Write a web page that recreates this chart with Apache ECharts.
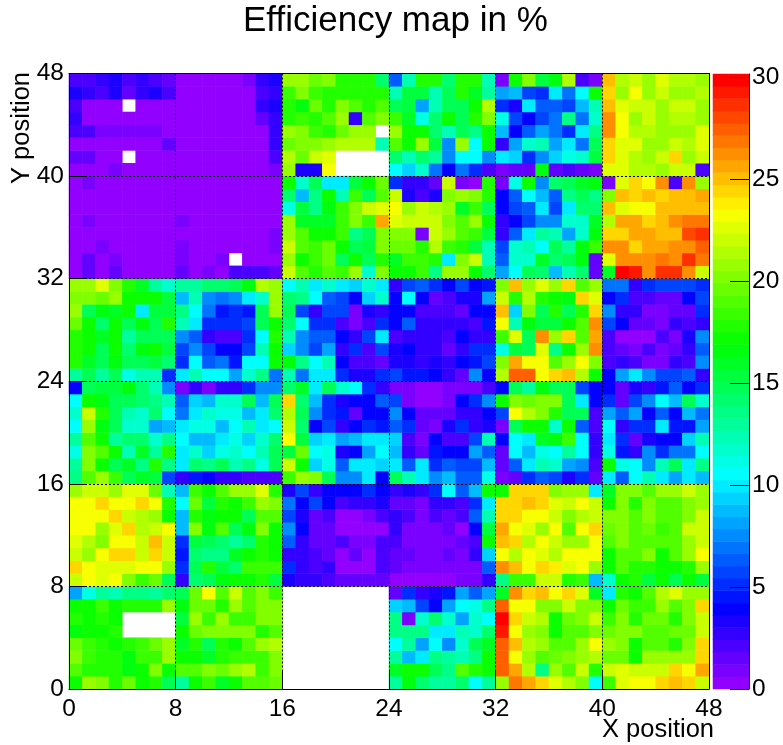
<!DOCTYPE html>
<html><head><meta charset="utf-8">
<style>html,body{margin:0;padding:0;background:#fff}#c{width:783px;height:745px}</style>
<script src="https://cdn.jsdelivr.net/npm/echarts@6/dist/echarts.min.js"></script>
</head><body><div id="c"></div>
<script>
const n = null;
const row47=[2,2,3,3.6,2,3,2,1.5,.4,.4,.4,.4,.4,1.2,3,3.2,21,21,19.5,20,18,18,17.5,14,6.5,12.3,17.5,17.5,14,18,17.5,12.5,.9,17,20,15.5,16.5,21.5,2,1,25,21.5,22.3,21,22.5,21.7,21.7,21];
const row46=[3.6,3,2.3,3.2,1.3,2.5,3.2,2.3,.4,.4,.4,.4,.4,.4,2,3,18.5,20.5,18.5,17.5,17.5,17.5,18,18,12.5,15.5,15.5,12.5,14.5,17.5,16,13,8.3,8.7,6,5,9.8,6.7,10.7,17,24.7,20.7,23,20.7,22,21,21,21.5];
const row45=[2.3,.4,.4,.4,n,.4,.4,.4,.4,.4,.4,.4,.4,.4,3,3.6,18,16.5,19.5,18,20,19,17.5,19,15,15.5,8.3,12.5,14.5,14.5,17,21.5,5,3.5,10,6.5,6.5,6,8.7,12.3,25,22.8,22,22,21,22,22,21];
const row44=[3,.4,.4,.4,.4,.4,.4,.4,.4,.4,.4,.4,.4,.4,1.5,3,18,18.5,18,19,20.7,2.7,19,20,18.5,16,11.3,14,17,15,18,20,11,6,4.2,5.5,7,13.3,7,11.8,26,23.5,21,22,21,21.5,21.5,21];
const row43=[2,2,1.2,1.2,1.2,1.2,1.2,.5,.4,.4,.4,.4,.4,.4,.4,3,21,20,18.5,18,19.5,21,21,n,21,17,17,14,12.5,15,13.5,17,9,4.2,6.5,8.3,7,5,10,13.3,26.5,23.5,21.5,21.5,20.7,20.7,21,22.8];
const row42=[.4,.4,.4,.4,.4,.4,.4,1.5,.4,.4,.4,.4,.4,.4,.4,3,19.5,20,20,21,21.7,21.7,21.7,12.5,19,17,21,15.5,7.5,21,10.7,17,3,8.3,11.5,12.3,8.3,10,7,15,24.2,22.8,22.8,20.7,20.7,22.3,21.5,22.8];
const row41=[1.5,1.5,.4,.4,n,.4,.4,.4,.4,.4,.4,.4,.4,.4,.4,2,21.5,19.5,22,22.8,n,n,n,n,14,12.5,14,12.8,7.5,10.8,10.7,7.8,10.2,9.2,5.2,7.7,9.2,11.3,11.8,15.5,24.7,22.8,21.5,20.7,22,24.2,20.7,22.3];
const row40=[.4,.4,.4,1.2,.4,.4,.4,.4,.4,.4,.4,.4,.4,.4,.4,1.2,21,3.5,3.1,23.5,n,n,n,n,10.7,9.1,11.5,6.7,4.2,7,5.2,2.3,.7,1.5,1.5,16.5,1.5,2.3,1.5,1,22.8,22.8,21.5,21.5,20.7,22,22,2];
const row39=[.4,1.2,.4,.4,.4,.4,.4,.4,.4,.4,.4,.4,.4,.4,.4,.4,17,12,14.5,10,10,15.5,17,19.5,5,2.7,2.7,1.5,22,1,.6,18,1,11.3,17,7.5,14,15,16,16.5,1,22.8,24.2,23.5,26.3,2,26.3,20.7];
const row38=[.4,.4,.4,.4,.4,.4,.4,.4,.4,.4,.4,.4,.4,.4,.4,.4,14,8.7,13.5,17,12.5,18.5,15,19,22.3,3.2,2,3.2,20,20.7,20,18,3.8,6.5,10.7,8.7,6.5,13.3,15,13.5,20.3,25,24.2,25,24.7,25.2,25.2,25.7];
const row37=[.4,.4,.4,.4,.4,.4,.4,.4,.4,.4,.4,.4,.4,.4,.4,.4,11,15.5,13.5,16.5,18.5,20,22,22.8,23,21,22,21.5,20.7,16,18.5,15,4.2,5.5,6.5,9.8,5.5,9.8,13.9,14,25.2,22.8,23.5,23.5,25.3,25.3,25.3,25.3];
const row36=[.4,1.2,.4,.4,.4,.4,.4,.4,1.2,.4,.4,.4,.4,.4,.4,.4,20.7,16,16,16,18.5,20,18.5,25.5,22.5,22,22,22.3,20.3,19,21,17,3,4.2,5.5,7.7,7.7,11.8,11.8,16,21.5,25.6,25.6,24.7,25.3,26,26.8,26.8];
const row35=[.4,.4,.4,.4,.4,.4,.4,.4,.4,.4,.4,.4,.4,.4,.4,1,21,19,17,17,18.5,13.5,15,20.3,20.3,20,1,22,21,19,18.5,15.5,3,6.5,9.8,13,12.3,8.3,11.8,16.5,24.7,24.7,25.6,25.6,25.2,25.2,27.8,28.5];
const row34=[.4,.4,1.2,.4,.4,.4,.4,.4,1.2,.4,.4,.4,.4,.4,.4,1,22,19,18.5,19.5,17,14.5,15.5,20.3,19.5,19.5,18,21.5,18.5,18,15.5,12.3,5.5,11.8,12.3,10.7,14.5,13,16.5,18.5,26.4,26,24.7,25.4,25.4,26,26,27.6];
const row33=[.4,1.5,.4,1.2,.4,.4,.4,.4,1.2,.4,.4,1.2,n,.4,.4,.4,21,17,18.5,19.5,15,17,15,18,16,18.5,18.5,17.5,10,20,22,12.5,6.5,11.8,11.8,15.8,14,15,16.8,1.5,22.8,26.5,26.5,26.5,27,26.5,28.5,27];
const row32=[.4,1.5,.4,1.5,.4,.4,.4,.4,1.5,.4,1,.4,2,2.3,2.3,1.5,22.3,19,18,19,18.5,20.7,11.8,20,17,17,18.5,13.5,21,20.7,17,14,8.3,10.7,15,14,8.7,12.3,14,1.5,16,29.9,29.2,26.5,28.5,28.5,26,22];
const row31=[21,21,22.5,20.5,17.5,16,13,12,13,13,14,14,15,16.8,21.5,20.7,10.8,12.3,9.8,12,10,9.5,11.5,9.7,2.7,5.5,6.5,5,3.8,5.5,4.2,4.6,20.3,25,21,22.8,20.7,24.6,19,20.7,6.7,7,3,5,6,6,6,5];
const row30=[20.5,20.3,19.5,20.7,17.3,17.3,17.3,15.5,9,12.5,7.5,7,7.5,9.8,11.8,21,14,13.3,10.3,6.5,6,3.8,9.2,11.5,4.2,10.3,3.9,1.5,2,3.4,3.5,8.3,22,18,21.5,18,17,16.5,24.2,22.8,3.7,5,1.9,1.9,1.4,1.4,4.2,5.5];
const row29=[20.7,14.5,16.5,15.8,17,10.2,15.5,15.5,13.5,10.7,7,4.7,5.3,4.5,14.5,21,14.5,6,3,5.5,6,.9,3.3,3,4.2,3.8,2,2,2,1.5,4.2,3.7,25,9.3,20.5,15,18,14.5,18,24.7,7.7,3,2.7,1,1,1.3,1.3,5];
const row28=[19.5,17,14,17,15,16.5,15,17.7,12.5,9.8,5,5.2,5.2,6,14.5,17,14,10.7,5,5,2.3,1,2,5.3,4.2,6.5,3,3,3,3,2,4.5,23.5,12.5,16.5,15.5,15.3,17,19,26.4,6,3.8,1.5,1.5,1,3,2.2,3];
const row27=[18,17,16,17,13,15,15,15,7.5,6.5,2.7,2,2,5,10.8,18,12.3,7.7,6.5,6.5,3.7,3,6,10,2,2.7,2.5,2.5,2.2,3.7,2.6,3,18.5,22.4,15,26.4,21,24.2,19,25.6,2,.6,.6,.6,2.3,.7,3.3,7.5];
const row26=[17.7,17,15,17,14,16.5,17,15.5,5.5,7.8,5.5,3.8,4.2,5.5,12.5,17,9.3,7.7,5.5,8.3,3,5,2,5.5,3.4,4.2,2.6,2.6,1.7,2.6,5.3,5,11,15.3,15,22.8,13.5,17,21,26,2,1.3,1,1.9,1,1.3,2.6,6.5];
const row25=[17.8,16,15,16.5,15,15,15.3,14.3,5,10.7,6.5,7,4.5,10.5,10.5,17,16.5,13.3,10.7,12.3,3.8,2.3,2.3,1.3,3.5,3.5,3,3.3,3,3.8,4.3,5.5,20.4,25.5,23,23,19,20.7,23.5,20,2,2.7,2,1,1,2.6,2.2,7.7];
const row24=[13,15,13,15,11,12.3,12.3,5,10,12.5,10.7,10.7,8.3,11.8,13.5,7,12.3,7,9.7,10,5,3.5,3.5,5,5.5,4.5,4.5,3.8,2.7,1.5,7.5,3.7,21.5,27.6,27.6,23.5,24.3,25,21.5,17,3.7,8.3,10,7.5,5.5,5.5,6.5,3];
const row23=[4.2,15,15.3,15.3,16.8,14,12.5,7.7,1,3,1,3,2.6,4.9,7.7,7.7,14,16,10,15,12,10.8,5,3,1,1,.5,.5,1,1,1,2.3,4.2,15,13,16.5,14.5,14.5,6,3.7,3.8,1.5,3.3,2.8,4.5,6.5,4.2,5.2];
const row22=[10.8,17,16.8,15,14.8,14.3,13.5,12.3,6.5,9.2,8.7,11.5,11.5,14.5,9,15,24.7,14.2,8.5,5,3.3,4,3.7,6.5,5.5,1,.6,.6,.9,3.7,5,7.5,17,20.5,19.3,20.3,20.3,15,10,4.2,5,1.8,5.5,7.5,10.3,9,15,11.8];
const row21=[11.5,22.3,18,15,12.5,11.5,14,10.4,7,10,11.5,11,11,8.7,10,14,21.2,15,7.8,5,4.6,1.5,3.8,3.8,7.5,4.2,1.5,1.3,1.3,3,3,4.2,5.5,23.5,21.7,20.5,18,15,14.5,2.2,8.3,6.5,8.3,4.2,6.5,4.2,8.5,7];
const row20=[10.8,20.7,16.8,15,12,11.5,8.3,8.8,9.7,11.2,11.3,8.8,10.7,12.5,9.7,10.7,22,14,4.2,5.5,2.7,4.2,5,4.3,6.5,5,1.5,1,3.3,5,3,3.5,1,14.5,17,17,11.5,17,6.5,2.2,10.8,3,5,5,9.7,4.7,4.7,8.3];
const row19=[13,19,17,13,14,14,12,13.5,10.7,8.8,8.8,10,11,9.5,12,14,23.5,15.3,9.2,10,8.3,9,9.7,9.7,9.2,2.3,.9,4.2,2,2,5.5,12.3,3.7,10.7,9.7,15.7,16.7,18.5,10.7,3,10.2,5,1.8,3.3,4.2,4.2,9.2,12.3];
const row18=[11.3,20,18.7,17,12.3,16,13,18,10,11.8,9.2,11.3,11.8,10.7,12.3,14.5,15.5,19.5,10.3,11.3,3.5,4.2,8.3,10.7,8.5,3,1.8,4.3,3.8,3.8,8.3,6.5,1.8,10.6,8.5,11.3,10.7,13,10.7,3,11,4.5,3,7.7,5,7,7,10.7];
const row17=[13,20,17,14.5,16,13.5,18,13.5,9.7,14,13.5,14.5,12.5,13.5,11.3,15,22.3,17,9.2,11.3,6.5,9.8,9.8,9.2,9.7,6.5,9.7,5.2,6.5,5.5,5.5,8.8,1.8,6.5,9.7,12.3,11.8,8.4,7.8,2.2,17,10.9,10.3,7.8,12.5,15,9.7,13.5];
const row16=[13.3,19,21,18.5,14.5,16,15.3,6,2.6,4.5,3.8,2.6,3,2.3,2.3,2,18.2,20.7,20,15,7.5,7.5,10.2,4.2,15,12.5,9.7,7.5,8.8,6.5,6.5,11.3,1,1.5,5,6.5,6,3.3,5,1.8,10.2,6.5,10.3,12.3,10.2,8.3,10.2,8.8];
const row15=[21,22.3,22.3,21,22.8,22.4,19.5,12.5,8.8,18.5,17,18.7,21,21,22.4,18,3.5,6,2.7,3.7,4.2,4.2,5,3.8,2.8,3.4,3,5,10.3,6.5,8.8,17,17,24.2,24.2,24.2,20,21,21,10.2,16,20.3,20.3,19,21,21,22,21];
const row14=[23.5,23.5,24.3,23.5,23.5,24.5,23.5,17.7,10.7,19.5,15.3,17.5,17,18.5,21,20.5,7,4.2,5.5,3.8,2.3,3,2.5,3.3,1.4,1.4,.9,3,3,2.2,5,10,24.7,24.7,24.9,24.3,22.8,22.3,23,22,17,20,18,20,18.7,19,20.4,21];
const row13=[23.5,23.5,23.5,24.3,22.3,21.7,20.7,17,8.5,18,16.5,17,17,14.5,19,19,6,3.5,1.4,1.9,.5,.5,1.2,1.9,3,2.2,.9,2.2,1.6,2.2,6.5,12.3,24.6,24.3,23.5,23.5,22,20.5,21.5,22.3,20,20,19,20,19,18.7,20,22.3];
const row12=[23.5,23.5,20.7,22.8,24.3,21.2,22,23,8.8,20,16.5,19,14.5,16.5,20.5,17,7.8,4.2,1.4,1.4,.5,.5,.5,.5,2.7,.9,.9,.9,1.4,.6,4.2,15.3,25.4,23.5,22.8,20.7,23.5,19,23,24.2,19.5,20,19,19.5,18.5,19,22,22];
const row11=[22.8,21.7,20,23.5,23,22.3,25,22.3,5,15.5,14.5,14,13,14,18,17.3,6.5,3,1.8,1.8,1.9,1.2,1.2,2.2,2.2,.9,.9,.9,.9,1.3,2.3,17,25,24.2,21.5,23.5,22.3,21,21,23.5,19,20,19,19,19,19,21,22.3];
const row10=[22,20.7,23.5,24.2,24.2,22.3,24.2,22.3,4.5,14,13.5,13.5,15.8,17,18,17,3,3,2.3,1.4,.5,1.4,.5,2.3,1.3,1.3,.9,.9,1.6,.9,3,9.3,23.5,21.5,23.5,22.8,21.5,23,23.5,23.5,17.3,19,19,20,17,19,20.7,23.5];
const row09=[24.7,23.5,22.8,22.8,22.8,23.5,23,20.7,5,14.5,18,15.5,14,18.5,18.5,18.5,5,3,2.3,3,.5,.5,.5,2.3,1.8,.7,.7,.7,.7,.7,.7,6.5,26.5,25,23.5,24.2,23.6,22.4,23.5,20.7,17.3,19,18,18,17,17,18,20.7];
const row08=[22,23.5,22.8,23.5,20.5,18.5,19.5,14.5,3,14,14.5,16.7,17,17,18,15.5,3.5,3,3,2.3,1.3,1.3,1.3,1.3,.6,.6,.6,.6,.6,1.2,1.2,2.7,13.5,18.5,18.5,22.3,22,17.7,18.5,8.8,11.5,17,17.7,15.5,17,15,17,15.3];
const row07=[8.3,11.3,13,12.3,13.5,13.5,13,14,15,19.5,23,19,22,19,20.3,18.5,n,n,n,n,n,n,n,n,1.3,5,3,3.3,4.6,8.3,6.5,8.3,16,26,24.7,25.2,23.5,24.2,22.8,15.7,10.2,18,17,18.7,21.5,22.4,20.7,20.7];
const row06=[17,17,18.5,17,18,18,18,21,16.8,19.7,19.7,18,21,19,20,20,n,n,n,n,n,n,n,n,9.2,8.8,6,4.2,8.3,10.3,11,13.5,27.6,23.5,23.5,20,20,22,20.3,20.3,17,19.5,18.5,18.5,20.7,19,20.5,24.2];
const row05=[17.7,17.1,17.5,17.1,n,n,n,n,15.3,21,18.5,20.7,18.5,18.5,20,20,n,n,n,n,n,n,n,n,13.5,1,11.5,14,11.8,8.4,11.8,10.7,29.9,24.3,22,21.5,17,19.5,20.3,22.3,18.5,20.5,18,19.5,19.5,18,20.5,22];
const row04=[16.7,17.3,17.3,18,n,n,n,n,17,19.5,20,20,20,20,18,19,n,n,n,n,n,n,n,n,13.5,13.5,13.5,9.7,9.7,12.3,11.8,14,29.2,23.5,21,20,17,19,19,20,19.5,20,20,19,19,19.5,19.5,22];
const row03=[19.5,18.5,18,17,18,18.5,19.5,21,16,18,14.5,18,17,19,20.7,21.5,n,n,n,n,n,n,n,n,10.7,13,8.3,10.8,7.8,11.8,15,15.7,27.2,25,21.5,21,19,19,21,23,21,20,17,19,19,18,20.5,24.2];
const row02=[20.3,18.5,17.5,18,16.5,18.5,18.5,21,17,17,16,17.5,18.5,18.5,18.5,20,n,n,n,n,n,n,n,n,12.7,8.8,9.7,13.5,13,12.3,13.5,17,27.6,23.5,20.7,19,19.5,20,20.7,21.5,19.5,19.5,17,20.7,20.7,20.7,20.7,24.6];
const row01=[19,18,17.5,17.7,16.5,17,20,17.3,19,19,20.5,19.5,20.7,21.5,18.5,20,n,n,n,n,n,n,n,n,15.8,17,17,15,13.3,19,18,17,27.6,25.5,21.5,13.5,20.7,19,22.3,18,22,22.8,22.3,22,22.3,24.2,23,25.6];
const row00=[17,20.7,20,18,19.5,17,17.7,15,13,17,18.5,15.8,17,19,19,19.5,n,n,n,n,n,n,n,n,13,16.8,14,12.7,12.7,14.3,10.7,12.7,20.7,26.8,25.5,24.3,22.8,21.5,20.5,10.7,18.5,22.8,23.5,23.5,24.3,25,24.6,22];

const rowsBottomUp=[row00,row01,row02,row03,row04,row05,row06,row07,row08,row09,row10,row11,row12,row13,row14,row15,row16,row17,row18,row19,row20,row21,row22,row23,row24,row25,row26,row27,row28,row29,row30,row31,row32,row33,row34,row35,row36,row37,row38,row39,row40,row41,row42,row43,row44,row45,row46,row47];
const colorTickValues=[0,5,10,15,20,25,30];
const scaleMax=30.15, nColors=50;

function hsl(h){const f=n=>{const k=(n+h/30)%12;const a=0.5;const v=0.5-a*Math.max(-1,Math.min(k-3,9-k,1));return Math.round(v*255)};return `rgb(${f(0)},${f(8)},${f(4)})`}
const step=scaleMax/nColors;
const pieces=[],barCats=[],barData=[];
for(let i=0;i<nColors;i++){
  pieces.push({gte:i*step,lt:i===nColors-1?scaleMax+1:(i+1)*step,color:hsl(280-(i+1)*5.6)});
  barCats.push(String(i));barData.push([0,i,(i+.5)*step]);
}
const cells=[];
rowsBottomUp.forEach((r,y)=>r.forEach((v,x)=>{if(v!==null)cells.push([x,y,v])}));
const cats=Array.from({length:48},(_,i)=>String(i));
const font='"Liberation Sans",Arial,sans-serif';
const chart=echarts.init(document.getElementById('c'),null,{renderer:'canvas'});
const blackLine={show:true,onZero:false,lineStyle:{color:'#000',width:1}};
const hiddenCat=(data,position,gridIndex)=>({type:'category',data,position,gridIndex,z:10,axisLine:blackLine,axisTick:{show:false},axisLabel:{show:false},splitLine:{show:false}});
const valAxis=(position,margin)=>({type:'value',position,gridIndex:0,min:0,max:48,interval:8,z:10,axisLine:blackLine,
  axisTick:{show:true,inside:true,length:18,lineStyle:{color:'#000',width:1}},
  axisLabel:{show:true,color:'#000',fontFamily:font,fontSize:24.5,margin,hideOverlap:false,showMinLabel:true,showMaxLabel:true},
  splitLine:{show:true,lineStyle:{color:'#000',width:1,type:[2,2]}}});
chart.setOption({
  animation:false,backgroundColor:'#fff',
  title:{show:false},
  grid:[{left:69,top:73.5,width:640,height:615.5,containLabel:false},{left:713,top:74,width:36,height:615,containLabel:false}],
  xAxis:[hiddenCat(cats,'top',0),valAxis('bottom',8),
    {type:'category',data:['0'],gridIndex:1,show:false}],
  yAxis:[hiddenCat(cats,'right',0),valAxis('left',5),
    {type:'category',data:barCats,gridIndex:1,position:'left',show:false},
    {type:'value',gridIndex:1,position:'right',min:0,max:scaleMax,z:10,
      axisLine:blackLine,axisTick:{show:true,inside:true,length:19,customValues:colorTickValues,lineStyle:{color:'#000',width:1}},
      axisLabel:{show:true,color:'#000',fontFamily:font,fontSize:24.5,margin:3,customValues:colorTickValues},splitLine:{show:false}}],
  visualMap:{type:'piecewise',show:false,seriesIndex:[0,1],dimension:2,pieces},
  series:[
    {type:'heatmap',xAxisIndex:0,yAxisIndex:0,data:cells,progressive:0,animation:false,emphasis:{disabled:true}},
    {type:'heatmap',xAxisIndex:2,yAxisIndex:2,data:barData,progressive:0,animation:false,emphasis:{disabled:true}}
  ],
  graphic:[
    {type:'text',left:243,top:4,style:{text:'Efficiency map in %',font:'35px '+font,fill:'#000'}},
    {type:'text',right:69,top:717,style:{text:'X position',font:'25.5px '+font,fill:'#000'}},
    {type:'text',x:22,y:72,rotation:Math.PI/2,style:{text:'Y position',font:'25.5px '+font,fill:'#000',align:'right',verticalAlign:'middle'}}
  ]
});
</script></body></html>
